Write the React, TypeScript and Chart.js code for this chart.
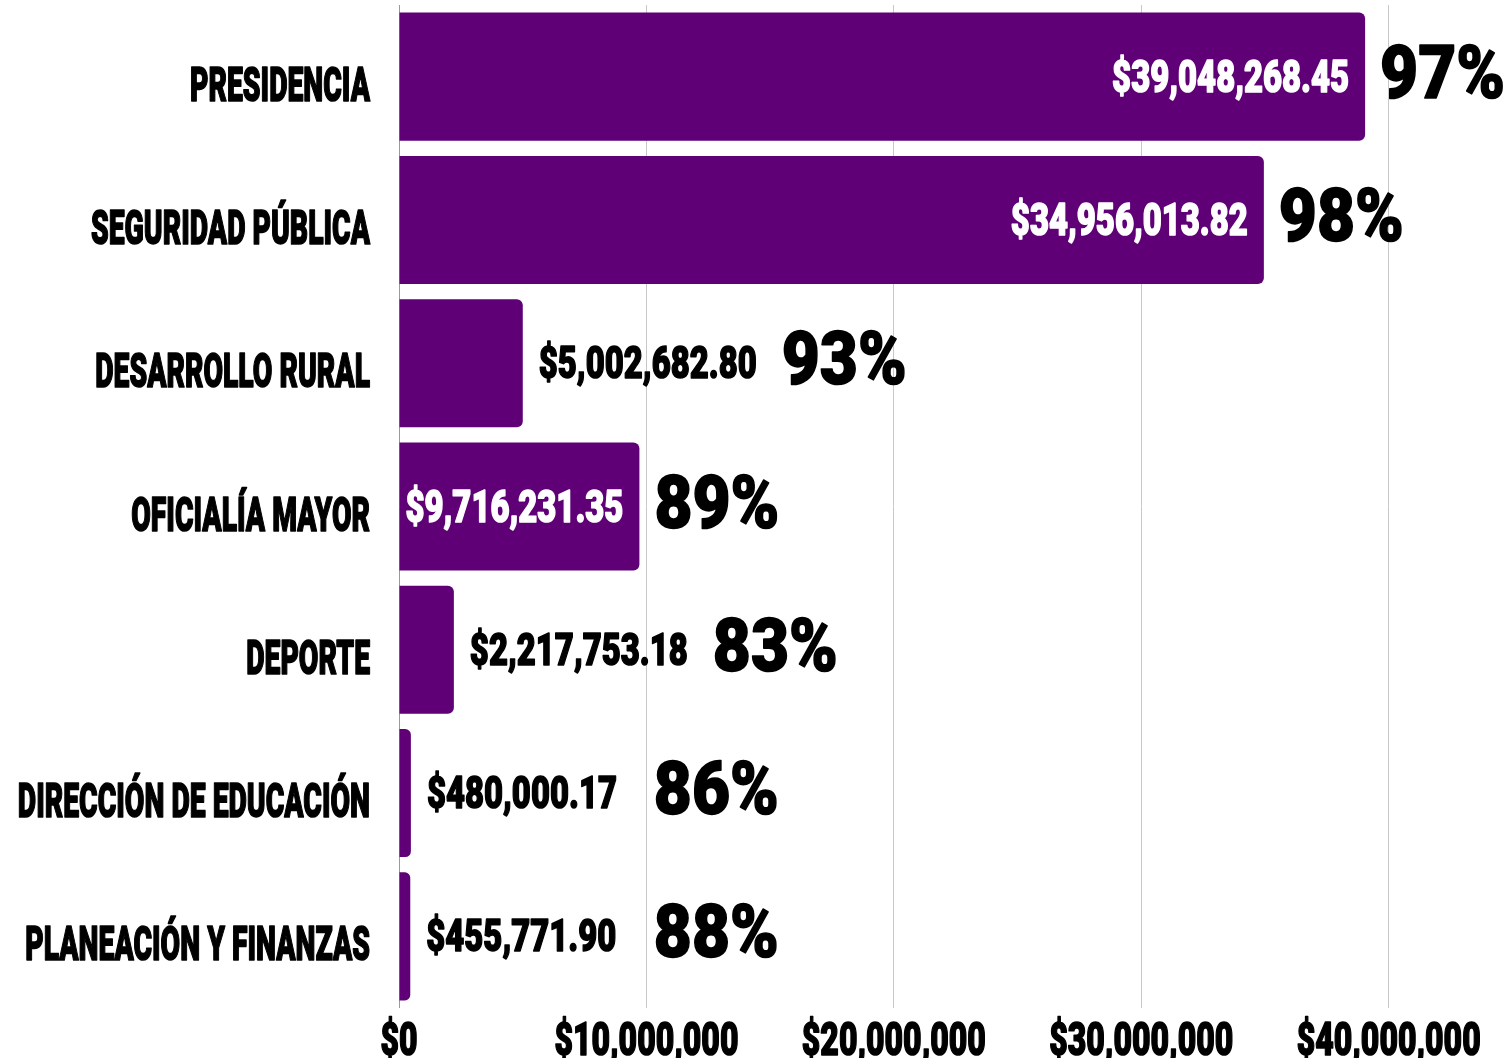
import React, { useEffect, useRef } from "react";
import { Chart, registerables } from "chart.js";

Chart.register(...registerables);

const categories = [
  "PRESIDENCIA",
  "SEGURIDAD PÚBLICA",
  "DESARROLLO RURAL",
  "OFICIALÍA MAYOR",
  "DEPORTE",
  "DIRECCIÓN DE EDUCACIÓN",
  "PLANEACIÓN Y FINANZAS",
];
const amounts = [
  39048268.45, 34956013.82, 5002682.8, 9716231.35, 2217753.18, 480000.17, 455771.9,
];
const percents = [97, 98, 93, 89, 83, 86, 88];
const xTickValues = [0, 10000000, 20000000, 30000000, 40000000];
const xMax = 44500000;
const pctMinValue = 10300000;

const FONT = "Roboto, 'Noto Sans', 'DejaVu Sans', sans-serif";
const PURPLE = "#5f0077";

const money = (v: number, dec: number) =>
  "$" +
  v.toLocaleString("en-US", { minimumFractionDigits: dec, maximumFractionDigits: dec });

// condensed text styles: font size + horizontal squeeze calibrated on a sample string
type TextStyle = { size: number; sample: string; sampleWidth: number; sx?: number };
const styles: Record<string, TextStyle> = {
  yLabel: { size: 48, sample: "PRESIDENCIA", sampleWidth: 180 },
  xTick: { size: 46, sample: "$10,000,000", sampleWidth: 184 },
  value: { size: 45, sample: "$39,048,268.45", sampleWidth: 237 },
  pct: { size: 74, sample: "97%", sampleWidth: 125 },
};

function setFont(ctx: CanvasRenderingContext2D, st: TextStyle) {
  ctx.font = `900 ${st.size}px ${FONT}`;
  if (st.sx === undefined) {
    st.sx = st.sampleWidth / ctx.measureText(st.sample).width;
  }
  return st.sx;
}

function textWidth(ctx: CanvasRenderingContext2D, st: TextStyle, text: string) {
  const sx = setFont(ctx, st);
  return ctx.measureText(text).width * sx;
}

function drawText(
  ctx: CanvasRenderingContext2D,
  st: TextStyle,
  text: string,
  x: number,
  y: number,
  align: "left" | "right" | "center",
  color: string
) {
  const sx = setFont(ctx, st);
  ctx.save();
  ctx.translate(x, y);
  ctx.scale(sx, 1);
  ctx.textAlign = align;
  ctx.textBaseline = "alphabetic";
  ctx.fillStyle = color;
  ctx.strokeStyle = color;
  ctx.lineWidth = 1.6;
  ctx.lineJoin = "round";
  ctx.fillText(text, 0, 0);
  ctx.strokeText(text, 0, 0);
  ctx.restore();
}

const labelPlugin = {
  id: "barLabels",
  afterDraw(chart: any) {
    const ctx = chart.ctx as CanvasRenderingContext2D;
    const meta = chart.getDatasetMeta(0);
    const xScale = chart.scales.x;
    const yScale = chart.scales.y;
    const minPct = xScale.getPixelForValue(pctMinValue);

    // category labels (y axis)
    (chart.data.labels as string[]).forEach((lab, i) => {
      const py = yScale.getPixelForTick(i);
      drawText(ctx, styles.yLabel, lab, yScale.right - 29, py + 24, "right", "#000");
    });

    // x tick labels
    xScale.ticks.forEach((t: any) => {
      const px = xScale.getPixelForValue(t.value);
      drawText(ctx, styles.xTick, money(t.value, 0), px, chart.chartArea.bottom + 47, "center", "#000");
    });

    // value and percent labels
    meta.data.forEach((el: any, i: number) => {
      const x = el.x;
      const y = el.y;
      const base = el.base;
      const txt = money(amounts[i], 2);
      const w = textWidth(ctx, styles.value, txt);
      let pctX: number;
      if (w + 20 <= x - base) {
        drawText(ctx, styles.value, txt, x - 16, y + 15, "right", "#ffffff");
        pctX = x + 15;
      } else {
        drawText(ctx, styles.value, txt, x + 16, y + 15, "left", "#000000");
        pctX = x + 16 + w + 25;
      }
      pctX = Math.max(pctX, minPct);
      drawText(ctx, styles.pct, percents[i] + "%", pctX, y + 21, "left", "#000000");
    });
  },
};

export default function App() {
  const ref = useRef<HTMLCanvasElement | null>(null);
  useEffect(() => {
    document.body.style.margin = "0";
    if (!ref.current) return;
    const chart = new Chart(ref.current, {
      type: "bar",
      data: {
        labels: categories,
        datasets: [
          {
            data: amounts,
            backgroundColor: PURPLE,
            borderRadius: 6,
            borderSkipped: "start",
            barPercentage: 0.894,
            categoryPercentage: 1,
          },
        ],
      },
      options: {
        indexAxis: "y",
        animation: false,
        responsive: true,
        maintainAspectRatio: false,
        layout: { padding: { top: 5, right: 8, bottom: 0, left: 0 } },
        plugins: {
          legend: { display: false },
          tooltip: { enabled: false },
        },
        scales: {
          x: {
            min: 0,
            max: xMax,
            border: { display: false },
            grid: {
              drawTicks: false,
              color: (c: any) => (c.index === 0 ? "#9a9a9a" : "#c8c8c8"),
              lineWidth: 1,
            },
            ticks: { display: false },
            afterBuildTicks: (s: any) => {
              s.ticks = xTickValues.map((v) => ({ value: v }));
            },
            afterFit: (s: any) => {
              s.height = 50;
            },
          },
          y: {
            border: { display: false },
            grid: { display: false, drawTicks: false },
            ticks: { display: false },
            afterFit: (s: any) => {
              s.width = 399;
            },
          },
        },
      },
      plugins: [labelPlugin],
    } as any);
    return () => chart.destroy();
  }, []);
  return (
    <div style={{ width: 1508, height: 1058, position: "relative" }}>
      <canvas ref={ref} />
    </div>
  );
}
